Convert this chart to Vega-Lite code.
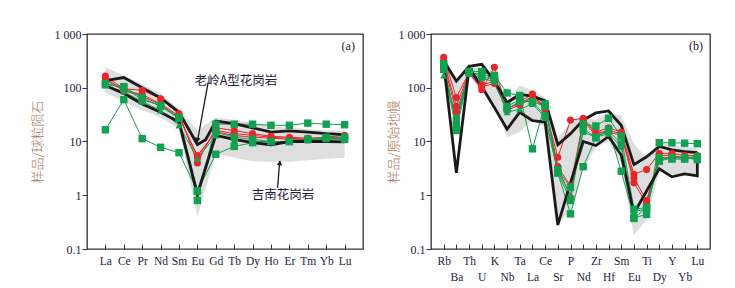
{
"$schema": "https://vega.github.io/schema/vega-lite/v6.json",
"padding": {"left": 30, "top": 27, "right": 5, "bottom": 2},
"background": "white",
"spacing": 22,
"config": {
  "view": {"stroke": "#333333", "strokeWidth": 1.3},
  "font": "Liberation Serif",
  "axis": {"grid": false, "domain": false, "labelFont": "Liberation Serif", "labelColor": "#1c1c3c", "tickColor": "#333333", "titleFont": "Noto Sans CJK SC", "titleColor": "#a87656", "titleFontWeight": 300}
},
"datasets": {
  "aBand": [
    {"i":0,"v":82,"v2":240},{"i":1,"v":55,"v2":170},{"i":2,"v":38,"v2":115},{"i":3,"v":28,"v2":80},{"i":4,"v":17,"v2":40},{"i":5,"v":0.4,"v2":16},{"i":6,"v":6,"v2":28},{"i":7,"v":5,"v2":25},{"i":8,"v":4.3,"v2":22},{"i":9,"v":4.2,"v2":19},{"i":10,"v":4.2,"v2":18},{"i":11,"v":4.5,"v2":17},{"i":12,"v":4.8,"v2":16},{"i":13,"v":5,"v2":16}
  ],
  "aSer": [
    {"n":0,"i":0,"k1":135,"k2":110,"r1":165,"r2":150,"r3":140,"g1":16.5,"g2":115,"g3":120,"g4":110},
    {"n":1,"i":1,"k1":155,"k2":78,"r1":95,"r2":90,"r3":88,"g1":60,"g2":105,"g3":100,"g4":85},
    {"n":2,"i":2,"k1":100,"k2":50,"r1":90,"r2":75,"r3":70,"g1":11.3,"g2":65,"g3":60,"g4":55},
    {"n":3,"i":3,"k1":65,"k2":35,"r1":62,"r2":50,"r3":48,"g1":7.8,"g2":45,"g3":47,"g4":38},
    {"n":4,"i":4,"k1":35,"k2":23,"r1":33,"r2":30,"r3":28,"g1":6.2,"g2":27,"g3":28,"g4":20},
    {"n":5,"i":5,"k1":8.8,"k2":1.05,"r1":4,"r2":5,"r3":5.5,"g1":1.2,"g2":0.8,"g3":1.2,"g4":4.8},
    {"n":6,"i":5.45,"k1":10.8},
    {"n":7,"i":6,"k1":24,"k2":13,"r1":18,"r2":16,"r3":15,"g1":5.8,"g2":21,"g3":15,"g4":13},
    {"n":8,"i":7,"k1":21.5,"k2":11,"r1":16,"r2":14,"r3":13,"g1":8.1,"g2":21,"g3":12,"g4":10.5},
    {"n":9,"i":8,"k1":18,"k2":9.5,"r1":14,"r2":13,"r3":12,"g1":9.5,"g2":21,"g3":11,"g4":10},
    {"n":10,"i":9,"k1":15,"k2":8.7,"r1":12.5,"r2":12,"r3":11.5,"g1":10,"g2":20,"g3":10,"g4":10},
    {"n":11,"i":10,"k1":15.8,"k2":10,"r1":12,"r2":11.5,"r3":11,"g1":10,"g2":20,"g3":10,"g4":10},
    {"n":12,"i":11,"k1":15,"k2":10,"r1":11.5,"r2":11,"r3":11,"g1":11,"g2":22,"g3":11,"g4":10.5},
    {"n":13,"i":12,"k1":14,"k2":10,"r1":12,"r2":11.5,"r3":11.5,"g1":11.5,"g2":21,"g3":12,"g4":11},
    {"n":14,"i":13,"k1":13.4,"k2":9.8,"r1":13,"r2":12,"r3":11.5,"g1":11,"g2":20.5,"g3":12,"g4":11}
  ],
  "bBand": [
    {"i":0,"v":180,"v2":330},{"i":1,"v":15,"v2":120},{"i":2,"v":170,"v2":240},{"i":3,"v":90,"v2":240},{"i":4,"v":50,"v2":200},{"i":5,"v":12,"v2":60},{"i":6,"v":15,"v2":110},{"i":7,"v":25,"v2":90},{"i":8,"v":18,"v2":65},{"i":9,"v":0.3,"v2":12},{"i":10,"v":0.5,"v2":22},{"i":11,"v":3,"v2":30},{"i":12,"v":8,"v2":25},{"i":13,"v":10,"v2":35},{"i":14,"v":4,"v2":30},{"i":15,"v":0.18,"v2":9},{"i":16,"v":0.35,"v2":5},{"i":17,"v":2.8,"v2":10},{"i":18,"v":2.4,"v2":8.5},{"i":19,"v":2.5,"v2":8},{"i":20,"v":2.4,"v2":7.5}
  ],
  "bSer": [
    {"n":0,"i":0,"k1":318,"k2":280,"r1":370,"r2":320,"r3":290,"g1":280,"g2":250,"g3":220,"g4":170},
    {"n":1,"i":1,"k1":133,"k2":2.6,"r1":66,"r2":45,"r3":35,"g1":20,"g2":16,"g3":25,"g4":30},
    {"n":2,"i":2,"k1":250,"k2":230,"r1":190,"r2":200,"r3":185,"g1":200,"g2":190,"g3":200,"g4":180},
    {"n":3,"i":3,"k1":273,"k2":105,"r1":92,"r2":115,"r3":105,"g1":200,"g2":180,"g3":160,"g4":150},
    {"n":4,"i":4,"k1":133,"k2":43,"r1":240,"r2":130,"r3":120,"g1":170,"g2":150,"g3":140,"g4":130},
    {"n":5,"i":5,"k1":53,"k2":17,"r1":40,"r2":42,"r3":38,"g1":80,"g2":45,"g3":40,"g4":35},
    {"n":6,"i":6,"k1":75,"k2":35,"r1":55,"r2":50,"r3":48,"g1":72,"g2":60,"g3":55,"g4":40},
    {"n":7,"i":7,"k1":70,"k2":24.5,"r1":76,"r2":70,"r3":65,"g1":7.3,"g2":55,"g3":55,"g4":50},
    {"n":8,"i":8,"k1":57,"k2":23,"r1":40,"r2":45,"r3":42,"g1":50,"g2":45,"g3":30,"g4":28},
    {"n":9,"i":9,"k1":8.7,"k2":0.28,"r1":5.1,"r2":3.4,"r3":3.4,"g1":2.6,"g2":3,"g3":2.6,"g4":2.8},
    {"n":10,"i":10,"k1":14,"k2":1.7,"r1":25,"r2":0.91,"r3":1.5,"g1":0.45,"g2":1.4,"g3":0.8,"g4":1.0},
    {"n":11,"i":11,"k1":25,"k2":10,"r1":27,"r2":26,"r3":24,"g1":3.4,"g2":21,"g3":17,"g4":15},
    {"n":12,"i":12,"k1":34,"k2":8.4,"r1":15,"r2":14,"r3":13,"g1":11.7,"g2":19.5,"g3":12,"g4":12},
    {"n":13,"i":13,"k1":37,"k2":12.4,"r1":18,"r2":16,"r3":15,"g1":17,"g2":27,"g3":16,"g4":14},
    {"n":14,"i":14,"k1":20,"k2":5.6,"r1":15,"r2":14,"r3":13,"g1":2.8,"g2":12.6,"g3":9,"g4":8},
    {"n":15,"i":15,"k1":3.7,"k2":0.46,"r1":2.45,"r2":1.7,"r3":2.1,"g1":0.38,"g2":0.55,"g3":0.37,"g4":0.5},
    {"n":16,"i":16,"k1":5.2,"k2":1.2,"r1":3.0,"r2":0.7,"r3":0.8,"g1":0.44,"g2":0.59,"g3":0.6,"g4":0.55},
    {"n":17,"i":17,"k1":8.1,"k2":3.1,"r1":6,"r2":5.5,"r3":5,"g1":9.5,"g2":5,"g3":4.3,"g4":4.5},
    {"n":18,"i":18,"k1":7.0,"k2":2.2,"r1":6,"r2":5.5,"r3":5,"g1":9.5,"g2":4.7,"g3":5,"g4":5},
    {"n":19,"i":19,"k1":6.5,"k2":2.5,"r1":5.5,"r2":5,"r3":5,"g1":9.3,"g2":4.7,"g3":5,"g4":5},
    {"n":20,"i":20,"k1":6.2,"k2":2.3,"r1":5.5,"r2":5,"r3":5.2,"g1":9.1,"g2":5.2,"g3":4.6,"g4":5},
    {"n":21,"i":20,"k2":6.2}
  ]
},
"hconcat": [
{
  "width": 276, "height": 215,
  "encoding": {
    "x": {"field": "i", "type": "quantitative", "scale": {"domain": [-1, 14], "nice": false, "zero": false},
      "axis": {"values": [0,1,2,3,4,5,6,7,8,9,10,11,12,13], "labelExpr": "['La','Ce','Pr','Nd','Sm','Eu','Gd','Tb','Dy','Ho','Er','Tm','Yb','Lu'][datum.value]", "tickSize": -5, "labelPadding": 11, "labelFontSize": 11.5, "title": null, "labelOverlap": false, "labelFlush": false}},
    "y": {"field": "v", "type": "quantitative", "scale": {"type": "log", "domain": [0.1, 1000], "nice": false},
      "axis": {"values": [0.1,1,10,100,1000], "labelExpr": "datum.value >= 1000 ? '1 000' : datum.value < 0.5 ? '0.1' : format(datum.value, 'd')", "tickSize": 5, "labelPadding": 1, "labelFontSize": 12, "title": "样品/球粒陨石", "titleFontSize": 13, "titleX": -50, "titleBaseline": "middle"}}
  },
  "layer": [
    {"data": {"name": "aBand"}, "mark": {"type": "area", "color": "#dedede"}, "encoding": {"y2": {"field": "v2"}}},
    {"data": {"name": "aSer"}, "transform": [{"fold": ["r1","r2","r3"], "as": ["s","v"]}, {"filter": "isValid(datum.v)"}],
     "mark": {"type": "line", "color": "#e8262a", "strokeWidth": 1}, "encoding": {"detail": {"field": "s"}, "order": {"field": "n"}}},
    {"data": {"name": "aSer"}, "transform": [{"fold": ["g1","g2","g3","g4"], "as": ["s","v"]}, {"filter": "isValid(datum.v)"}],
     "mark": {"type": "line", "color": "#12a150", "strokeWidth": 1}, "encoding": {"detail": {"field": "s"}, "order": {"field": "n"}}},
    {"data": {"name": "aSer"}, "transform": [{"fold": ["k1","k2"], "as": ["s","v"]}, {"filter": "isValid(datum.v)"}],
     "mark": {"type": "line", "color": "#1a1a1a", "strokeWidth": 2.8}, "encoding": {"detail": {"field": "s"}, "order": {"field": "n"}}},
    {"data": {"name": "aSer"}, "transform": [{"fold": ["r1","r2","r3"], "as": ["s","v"]}, {"filter": "isValid(datum.v)"}],
     "mark": {"type": "point", "shape": "circle", "filled": true, "opacity": 1, "size": 50, "color": "#e8262a"}},
    {"data": {"name": "aSer"}, "transform": [{"fold": ["g1","g2","g3"], "as": ["s","v"]}, {"filter": "isValid(datum.v)"}],
     "mark": {"type": "point", "shape": "square", "filled": true, "opacity": 1, "size": 55, "color": "#12a150"}},
    {"data": {"name": "aSer"}, "transform": [{"fold": ["g4"], "as": ["s","v"]}, {"filter": "isValid(datum.v)"}],
     "mark": {"type": "point", "shape": "triangle-up", "filled": true, "opacity": 1, "size": 50, "color": "#12a150"}},
    {"data": {"values": [{"i": 5.58, "v": 125, "i2": 5.0, "v2": 10}, {"i": 9.36, "v": 1.38, "i2": 9.47, "v2": 4.3}]},
     "mark": {"type": "rule", "color": "#1a1a1a", "strokeWidth": 1.3}, "encoding": {"x2": {"field": "i2"}, "y2": {"field": "v2"}}},
    {"data": {"values": [{"i": 5.0, "v": 10.6}]}, "mark": {"type": "point", "shape": "triangle-down", "angle": 10, "filled": true, "opacity": 1, "size": 30, "color": "#1a1a1a"}},
    {"data": {"values": [{"i": 9.48, "v": 4.0}]}, "mark": {"type": "point", "shape": "triangle-up", "angle": 5, "filled": true, "opacity": 1, "size": 30, "color": "#1a1a1a"}},
    {"data": {"values": [{"i": 7.1, "v": 135, "t": "老岭A型花岗岩"}, {"i": 9.65, "v": 1.0, "t": "吉南花岗岩"}]},
     "mark": {"type": "text", "font": "Noto Sans CJK SC", "fontSize": 12.5, "color": "#1c1c3c"}, "encoding": {"text": {"field": "t"}}},
    {"data": {"values": [{"i": 13.2, "v": 600, "t": "(a)"}]},
     "mark": {"type": "text", "font": "Liberation Serif", "fontSize": 12, "color": "#1c1c3c"}, "encoding": {"text": {"field": "t"}}}
  ]
},
{
  "width": 279, "height": 215,
  "encoding": {
    "x": {"field": "i", "type": "quantitative", "scale": {"domain": [-1, 21], "nice": false, "zero": false},
      "axis": {"values": [0,1,2,3,4,5,6,7,8,9,10,11,12,13,14,15,16,17,18,19,20], "labelExpr": "datum.value % 2 == 1 ? ['', ['Rb','Ba','Th','U','K','Nb','Ta','La','Ce','Sr','P','Nd','Zr','Hf','Sm','Eu','Ti','Dy','Y','Yb','Lu'][datum.value]] : ['Rb','Ba','Th','U','K','Nb','Ta','La','Ce','Sr','P','Nd','Zr','Hf','Sm','Eu','Ti','Dy','Y','Yb','Lu'][datum.value]", "labelLineHeight": 16.5, "tickSize": -5, "labelPadding": 11, "labelFontSize": 11.5, "title": null, "labelOverlap": false, "labelFlush": false}},
    "y": {"field": "v", "type": "quantitative", "scale": {"type": "log", "domain": [0.1, 1000], "nice": false},
      "axis": {"values": [0.1,1,10,100,1000], "labelExpr": "datum.value >= 1000 ? '1 000' : datum.value < 0.5 ? '0.1' : format(datum.value, 'd')", "tickSize": 5, "labelPadding": 1, "labelFontSize": 12, "title": "样品/原始地幔", "titleFontSize": 13, "titleX": -38, "titleBaseline": "middle"}}
  },
  "layer": [
    {"data": {"name": "bBand"}, "mark": {"type": "area", "color": "#dedede"}, "encoding": {"y2": {"field": "v2"}}},
    {"data": {"name": "bSer"}, "transform": [{"fold": ["r1","r2","r3"], "as": ["s","v"]}, {"filter": "isValid(datum.v)"}],
     "mark": {"type": "line", "color": "#e8262a", "strokeWidth": 1}, "encoding": {"detail": {"field": "s"}, "order": {"field": "n"}}},
    {"data": {"name": "bSer"}, "transform": [{"fold": ["g1","g2","g3","g4"], "as": ["s","v"]}, {"filter": "isValid(datum.v)"}],
     "mark": {"type": "line", "color": "#12a150", "strokeWidth": 1}, "encoding": {"detail": {"field": "s"}, "order": {"field": "n"}}},
    {"data": {"name": "bSer"}, "transform": [{"fold": ["k1","k2"], "as": ["s","v"]}, {"filter": "isValid(datum.v)"}],
     "mark": {"type": "line", "color": "#1a1a1a", "strokeWidth": 2.8}, "encoding": {"detail": {"field": "s"}, "order": {"field": "n"}}},
    {"data": {"name": "bSer"}, "transform": [{"fold": ["r1","r2","r3"], "as": ["s","v"]}, {"filter": "isValid(datum.v)"}],
     "mark": {"type": "point", "shape": "circle", "filled": true, "opacity": 1, "size": 50, "color": "#e8262a"}},
    {"data": {"name": "bSer"}, "transform": [{"fold": ["g1","g2","g3"], "as": ["s","v"]}, {"filter": "isValid(datum.v)"}],
     "mark": {"type": "point", "shape": "square", "filled": true, "opacity": 1, "size": 55, "color": "#12a150"}},
    {"data": {"name": "bSer"}, "transform": [{"fold": ["g4"], "as": ["s","v"]}, {"filter": "isValid(datum.v)"}],
     "mark": {"type": "point", "shape": "triangle-up", "filled": true, "opacity": 1, "size": 50, "color": "#12a150"}},
    {"data": {"values": [{"i": 19.9, "v": 600, "t": "(b)"}]},
     "mark": {"type": "text", "font": "Liberation Serif", "fontSize": 12, "color": "#1c1c3c"}, "encoding": {"text": {"field": "t"}}}
  ]
}
]
}
